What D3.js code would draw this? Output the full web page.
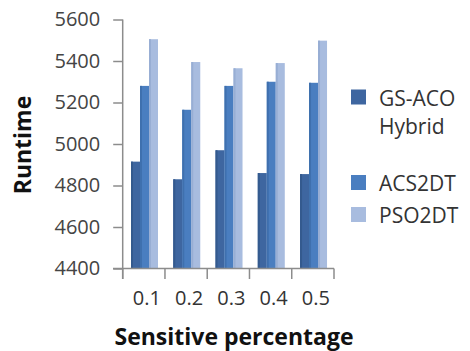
<!DOCTYPE html>
<html><head><meta charset="utf-8">
<script src="https://cdn.jsdelivr.net/npm/d3@7"></script>
<style>body{margin:0;background:#fff}svg{display:block}</style>
</head><body>
<script>
const categories = ["0.1","0.2","0.3","0.4","0.5"];
const seriesNames = ["GS-ACO Hybrid","ACS2DT","PSO2DT"];
const gsaco = [4915, 4830, 4970, 4860, 4855];
const acs2dt = [5280, 5165, 5280, 5300, 5295];
const pso2dt = [5505, 5395, 5365, 5390, 5498];
const yTicks = [4400,4600,4800,5000,5200,5400,5600];
const colors = ["#3e66a0","#4a7ec0","#a8bcdf"];
const sides = ["#345a8e","#3f70ae","#98aed4"];
const seriesValues = [gsaco, acs2dt, pso2dt];

const W = 470, H = 351;
const svg = d3.select("body").append("svg").attr("width", W).attr("height", H);
const font = "'Open Sans', sans-serif";

const y = d3.scaleLinear().domain([4400,5600]).range([268.5, 19.5]);
const x0 = d3.scaleBand().domain(categories).range([122.7, 334]).padding(0);
const x1 = d3.scaleBand().domain(seriesNames).range([8.3, 35.3]).padding(0);

// bars
const g = svg.append("g");
categories.forEach((c, i) => {
  seriesNames.forEach((s, j) => {
    const v = seriesValues[j][i];
    const bx = x0(c) + x1(s);
    g.append("rect").attr("x", bx).attr("y", y(v)).attr("width", x1.bandwidth())
      .attr("height", y(4400) - y(v)).attr("fill", colors[j]);
    g.append("rect").attr("x", bx).attr("y", y(v)).attr("width", 2)
      .attr("height", y(4400) - y(v)).attr("fill", sides[j]);
  });
});

const axisColor = "#8c8c8c";
// y axis
const yAxis = svg.append("g").attr("transform", "translate(122.7,0)")
  .call(d3.axisLeft(y).tickValues(yTicks).tickSize(9.5).tickPadding(13).tickFormat(d3.format("d")));
yAxis.select(".domain").attr("d", `M0,${y(5600)}V279`);
yAxis.selectAll("path,line").attr("stroke", axisColor).attr("stroke-width", 1.5);
yAxis.selectAll("text").attr("font-family", font).attr("font-size", 20).attr("fill", "#444");

// x axis
const xAxis = svg.append("g").attr("transform", `translate(0,${y(4400)})`)
  .call(d3.axisBottom(x0).tickSize(0).tickPadding(22));
xAxis.select(".domain").attr("d", `M113,0H334`);
xAxis.selectAll("path").attr("stroke", axisColor).attr("stroke-width", 1.5);
xAxis.selectAll("text").attr("font-family", font).attr("font-size", 20).attr("fill", "#333")
  .attr("dx", 3);
// boundary ticks
const bounds = categories.map(c => x0(c)).concat([x0.range()[1]]);
xAxis.selectAll("line.bnd").data(bounds).enter().append("line").attr("class","bnd")
  .attr("x1", d => d).attr("x2", d => d).attr("y1", 0).attr("y2", 10.5)
  .attr("stroke", axisColor).attr("stroke-width", 1.5);

// axis titles
svg.append("text").attr("transform", "translate(31,145) rotate(-90)")
  .attr("text-anchor", "middle").attr("font-family", font).attr("font-weight", "bold")
  .attr("font-size", 23).attr("fill", "#111").text("Runtime");
svg.append("text").attr("x", 234).attr("y", 345)
  .attr("text-anchor", "middle").attr("font-family", font).attr("font-weight", "bold")
  .attr("font-size", 23).attr("fill", "#111").text("Sensitive percentage");

// legend
const legendItems = [
  {lines: ["GS-ACO","Hybrid"], y: 89.5},
  {lines: ["ACS2DT"], y: 175},
  {lines: ["PSO2DT"], y: 207}
];
legendItems.forEach((it, j) => {
  svg.append("rect").attr("x", 351).attr("y", it.y).attr("width", 15).attr("height", 15)
    .attr("fill", colors[j]);
  it.lines.forEach((t, k) => {
    svg.append("text").attr("x", 379).attr("y", it.y + 16 + k * 28)
      .attr("font-family", font).attr("font-size", 21).attr("fill", "#333").text(t);
  });
});
</script>
</body></html>
